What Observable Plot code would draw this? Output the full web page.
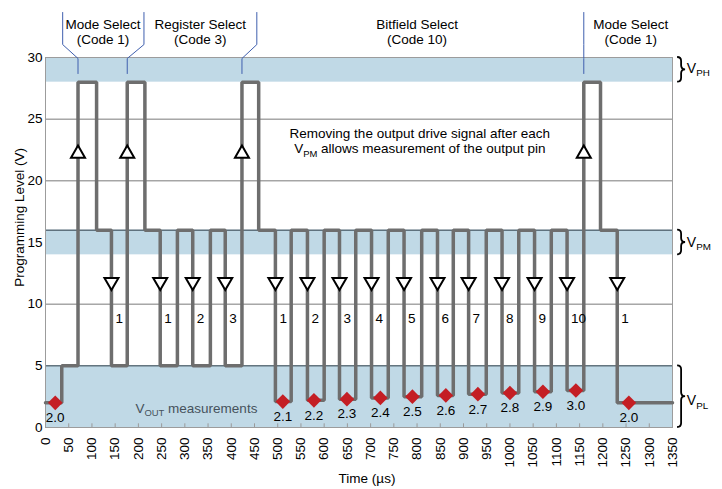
<!DOCTYPE html>
<html><head><meta charset="utf-8">
<script src="https://cdn.jsdelivr.net/npm/d3@7"></script>
<script src="https://cdn.jsdelivr.net/npm/@observablehq/plot@0.6"></script>
<style>
html,body{margin:0;padding:0;background:#fff;}
#chart{width:722px;height:489px;}
</style></head><body><div id="chart"></div>
<script>
// ---- data ----
const stepTimes  = [0,35,70,110,142,176,214,247,284,317,355,387,423,459,495,529,564,600,633,668,702,738,772,810,844,878,911,949,983,1019,1053,1089,1123,1159,1195,1231,1350];
const stepLevels = [2.0,5,28,16,5,28,16,5,16,5,16,5,28,16,2.1,16,2.2,16,2.3,16,2.4,16,2.5,16,2.6,16,2.7,16,2.8,16,2.9,16,3.0,28,16,2.0,2.0];
const voutTimes  = [21,511,578,649,721,790,862,931,1000,1071,1142,1256];
const voutValues = [2.0,2.1,2.2,2.3,2.4,2.5,2.6,2.7,2.8,2.9,3.0,2.0];
const voutLabels = ["2.0","2.1","2.2","2.3","2.4","2.5","2.6","2.7","2.8","2.9","3.0","2.0"];
const riseTimes  = [70,176,423,1159];
const riseLevel  = 22.2;
const fallTimes  = [142,247,317,387,495,564,633,702,772,844,911,983,1053,1123,1231];
const fallLevel  = 11.8;
const fallLabels = ["1","1","2","3","1","2","3","4","5","6","7","8","9","10","1"];
const fallLabelLevel = 8.8;
const bandNames  = ["PL","PM","PH"];
const bandLow    = [0,14,28];
const bandHigh   = [5,16,30];
const bandLabelY = [1.78,14.62,28.73];
const sectionLabels = ["Mode Select\n(Code 1)","Register Select\n(Code 3)","Bitfield Select\n(Code 10)","Mode Select\n(Code 1)"];
const sectionX   = [124,333,800,1260];
const sectionY   = 33.1;
const leaderTops    = [37,212,455,1159];
const leaderTargets = [70,176,423,1159];
const leaderLevels  = [33.65,31.05,29.92,28.7];
const xTicks = [0,50,100,150,200,250,300,350,400,450,500,550,600,650,700,750,800,850,900,950,1000,1050,1100,1150,1200,1250,1300,1350];
const yTicks = [0,5,10,15,20,25,30];
const gridLevels = [10,20,25];
const bandEdgeLevels = [5,16];
const noteX = 807;
const noteY = 23.45;
const voutNoteX = 326, voutNoteY = 1.14;
const bandLabelX = 1382;
const braceX = 1361;
const yTitle = "Programming Level (V)", yTitleLevel = 17.0;
const xTitle = "Time (µs)";

// ---- tables ----
const wave = stepTimes.map((t,i)=>({t, v: stepLevels[i]}));
const vout = voutTimes.map((t,i)=>({t, v: voutValues[i], s: voutLabels[i]}));
const bands = bandNames.map((n,i)=>({n, y1: bandLow[i], y2: bandHigh[i]}));
const leaders = [];
leaderTops.forEach((top,i)=>{
  const tg = leaderTargets[i];
  [top, top, tg, tg].forEach((t,j)=>leaders.push({id:i, t, v: leaderLevels[j]}));
});
const falls = fallTimes.map((t,i)=>({t, s: fallLabels[i]}));
const sections = sectionLabels.map((s,i)=>({s, t: sectionX[i]}));

const FONT = "'Liberation Sans', Arial, sans-serif";
const plot = Plot.plot({
  width: 722, height: 489,
  marginLeft: 45, marginRight: 50, marginTop: 57, marginBottom: 62,
  style: {fontFamily: FONT, fontSize: "13.5px", color: "#000", background: "#fff", overflow: "visible"},
  x: {domain: [0,1350], ticks: xTicks, tickFormat: d => String(d), tickRotate: -90, tickSize: 0, tickPadding: 10, label: null},
  y: {domain: [0,30], ticks: yTicks, tickFormat: d => String(d), tickSize: 0, tickPadding: 3, label: null},
  marks: [
    Plot.rectY(bands, {x1: 0, x2: 1350, y1: "y1", y2: "y2", fill: "#c0d9e6"}),
    Plot.ruleY(gridLevels, {stroke: "#7a7a7a", strokeWidth: 1}),
    Plot.ruleY(bandEdgeLevels, {stroke: "#2d3e48", strokeWidth: 1}),
    Plot.ruleX(xTicks, {y1: 0, y2: 0.3, stroke: "#9a9a9a"}),
    Plot.frame({stroke: "#9c9c9c"}),
    Plot.line(leaders, {x: "t", y: "v", z: "id", stroke: "#3f5fae", strokeWidth: 1}),
    Plot.line(wave, {x: "t", y: "v", curve: "step-after", stroke: "#6e6e6e", strokeWidth: 3.5, strokeLinejoin: "miter"}),
    Plot.dot(riseTimes, {x: d=>d, y: riseLevel, symbol: "triangle", r: 5.2, fill: "#fff", stroke: "#000", strokeWidth: 2}),
    Plot.dot(fallTimes, {x: d=>d, y: fallLevel, symbol: "triangle", rotate: 180, r: 5.2, fill: "#fff", stroke: "#000", strokeWidth: 2}),
    Plot.text(falls, {x: "t", y: fallLabelLevel, text: "s", textAnchor: "start", dx: 4, fontSize: 13.5, fill: "#000"}),
    Plot.dot(vout, {x: "t", y: "v", symbol: "diamond2", r: 6.6, fill: "#c41e24", stroke: "none"}),
    Plot.text(vout, {x: "t", y: "v", text: "s", dy: 15, fontSize: 13.5, fill: "#000"}),
    Plot.text(sections, {x: "t", y: sectionY, text: "s", lineAnchor: "top", lineHeight: 1.05, fontSize: 13.5, fill: "#000"}),
    Plot.text([xTitle], {frameAnchor: "bottom", dx: 8, dy: 55, text: d=>d, fontSize: 13.5, fill: "#000"})
  ]
});
document.getElementById("chart").appendChild(plot);

// ---- rich text (subscripts), axis title and braces, positioned with Plot's scales ----
const svg = d3.select(plot);
const xs = plot.scale("x"), ys = plot.scale("y");
const X = v => xs.apply(v), Y = v => ys.apply(v);
svg.append("text")
  .attr("transform", `translate(24,${Y(yTitleLevel)}) rotate(-90)`)
  .attr("text-anchor", "middle").attr("font-family", FONT).attr("font-size", 13.5).attr("fill", "#000")
  .text(yTitle);
function rich(x, y, parts, anchor, color, size) {
  const t = svg.append("text").attr("x", x).attr("y", y).attr("text-anchor", anchor)
    .attr("fill", color).attr("font-size", size).attr("font-family", FONT);
  let off = 0;
  parts.forEach(([s, sub]) => {
    const sp = t.append("tspan").attr("font-size", sub ? size * 0.7 : size).text(s);
    const target = sub ? 3.5 : 0;
    if (target - off) sp.attr("dy", target - off);
    off = target;
  });
}
rich(X(noteX), Y(noteY), [["Removing the output drive signal after each", false]], "middle", "#000", 13.5);
rich(X(noteX), Y(noteY) + 15.5, [["V", false], ["PM", true], [" allows measurement of the output pin", false]], "middle", "#000", 13.5);
rich(X(voutNoteX), Y(voutNoteY), [["V", false], ["OUT", true], [" measurements", false]], "middle", "#46525c", 13.5);
bands.forEach((b, i) => {
  rich(X(bandLabelX), Y(bandLabelY[i]), [["V", false], [b.n, true]], "start", "#000", 14);
  const x0 = X(braceX), ya = Y(b.y2), yb = Y(b.y1), w = 8, h = w / 2;
  const m = (ya + yb) / 2, q = Math.min(4, (yb - ya) / 5);
  const d = `M${x0},${ya} Q${x0+h},${ya} ${x0+h},${ya+q} L${x0+h},${m-q} Q${x0+h},${m} ${x0+w},${m} Q${x0+h},${m} ${x0+h},${m+q} L${x0+h},${yb-q} Q${x0+h},${yb} ${x0},${yb}`;
  svg.append("path").attr("d", d).attr("fill", "none").attr("stroke", "#000").attr("stroke-width", 1.8);
});
</script></body></html>
